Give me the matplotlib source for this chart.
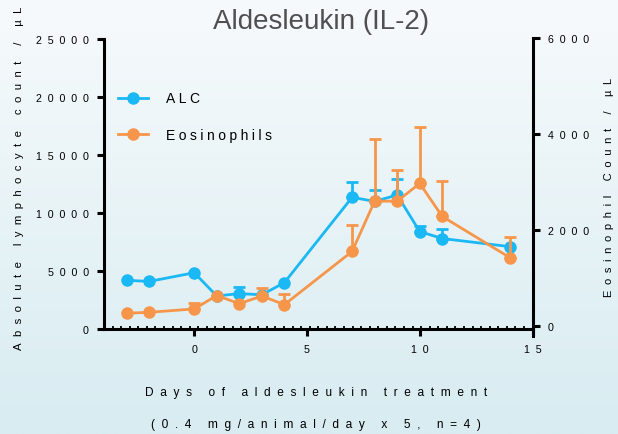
import numpy as np
import matplotlib.pyplot as plt
from matplotlib.colors import LinearSegmentedColormap
from matplotlib.lines import Line2D
from matplotlib import ticker

plt.rcParams['font.family'] = ['Liberation Sans', 'DejaVu Sans']

# values
days = [-3, -2, 0, 1, 2, 3, 4, 7, 8, 9, 10, 11, 14]
alc = [4200, 4100, 4850, 2850, 3050, 2950, 4000, 11350, 11000, 11550, 8400, 7800, 7100]
alc_err = [0, 0, 0, 0, 600, 0, 0, 1350, 950, 1350, 500, 800, 0]
eos = [260, 280, 350, 630, 460, 620, 440, 1550, 2600, 2600, 2970, 2280, 1420]
eos_err = [0, 0, 130, 0, 0, 170, 220, 550, 1300, 660, 1170, 740, 430]

left_ticks = [0, 5000, 10000, 15000, 20000, 25000]
right_ticks = [0, 2000, 4000, 6000]
x_ticks = [0, 5, 10, 15]

BLUE = '#1ab8f4'
ORANGE = '#f7964a'
W, H = 618, 435


def spaced(s, sep='\u2007'):
    # the original has wide letter spacing
    return sep.join(s)


def px(x, y):
    return x / W, 1 - y / H


fig = plt.figure(figsize=(6.18, 4.35), dpi=100)

# background gradient
bg = fig.add_axes([0, 0, 1, 1], zorder=-10)
grad = np.linspace(0, 1, 256).reshape(-1, 1)
cmap = LinearSegmentedColormap.from_list('bg', ['#f7fafc', '#d8ecf1'])
bg.imshow(grad, aspect='auto', extent=[0, 1, 0, 1], cmap=cmap)
bg.axis('off')

l, r = 104 / W, 532.5 / W
ax = fig.add_axes([l, 1 - 330 / H, r - l, 290 / H], facecolor='none')
ax2 = fig.add_axes([l, 1 - 337 / H, r - l, (337 - 39.3) / H], facecolor='none', sharex=ax)


def draw(a, x, y, err, color):
    x = np.array(x)
    y = np.array(y)
    err = np.array(err)
    m = err > 0
    a.errorbar(x[m], y[m], yerr=[np.zeros(m.sum()), err[m]], fmt='none',
               ecolor=color, elinewidth=2, capsize=4.5, capthick=2, zorder=2)
    a.plot(x, y, color=color, lw=2, marker='o', ms=9, mew=0, zorder=3)


draw(ax, days, alc, alc_err, BLUE)
draw(ax2, days, eos, eos_err, ORANGE)

ax.set_xlim(-4, 15)
ax.set_ylim(0, 25000)
ax2.set_ylim(-215, 6000)

for s in ['top', 'right']:
    ax.spines[s].set_visible(False)
for s in ['top', 'left', 'bottom']:
    ax2.spines[s].set_visible(False)
for sp in [ax.spines['left'], ax.spines['bottom'], ax2.spines['right']]:
    sp.set_linewidth(2.2)

fmt = ticker.FuncFormatter(lambda v, p: spaced(str(int(v))))
ax.set_xticks(x_ticks)
ax.xaxis.set_major_formatter(fmt)
ax.xaxis.set_minor_locator(ticker.FixedLocator(np.linspace(-4, 15, 51)))
ax.set_yticks(left_ticks)
ax.yaxis.set_major_formatter(fmt)
ax2.yaxis.tick_right()
ax2.set_yticks(right_ticks)
ax2.yaxis.set_major_formatter(fmt)
ax2.tick_params(axis='x', which='both', bottom=False, labelbottom=False)

ax.tick_params(axis='both', which='major', length=5, width=2.2, labelsize=7.7, pad=6, colors='black')
ax.tick_params(axis='x', which='minor', direction='in', length=2, width=1.3)
ax2.tick_params(axis='y', which='major', length=5, width=2.2, labelsize=7.7, pad=6)

fig.text(*px(321, 22), 'Aldesleukin (IL-2)', fontsize=20, color='#505050', ha='center', va='center')
fig.text(*px(19, 178), spaced('Absolute lymphocyte count / µL'), fontsize=8.2,
         rotation=90, ha='center', va='center')
fig.text(*px(609, 187), spaced('Eosinophil Count / µL', '\u2002'), fontsize=8,
         rotation=90, ha='center', va='center')
fig.text(*px(316, 393), spaced('Days of aldesleukin treatment'), fontsize=8.6, ha='center', va='center')
fig.text(*px(316, 425), spaced('(0.4 mg/animal/day x 5, n=4)'), fontsize=8.6, ha='center', va='center')

handles = [Line2D([], [], color=BLUE, lw=2, marker='o', ms=9, mew=0),
           Line2D([], [], color=ORANGE, lw=2, marker='o', ms=9, mew=0)]
ax2.legend(handles, [spaced('ALC', '\u2005'), spaced('Eosinophils', '\u2005')],
           loc='center left', bbox_to_anchor=px(118, 117.5), bbox_transform=fig.transFigure,
           frameon=False, fontsize=10, handlelength=2.16, handletextpad=1.3,
           labelspacing=1.6, borderpad=0, borderaxespad=0)

fig.savefig('out.png', dpi=100)
